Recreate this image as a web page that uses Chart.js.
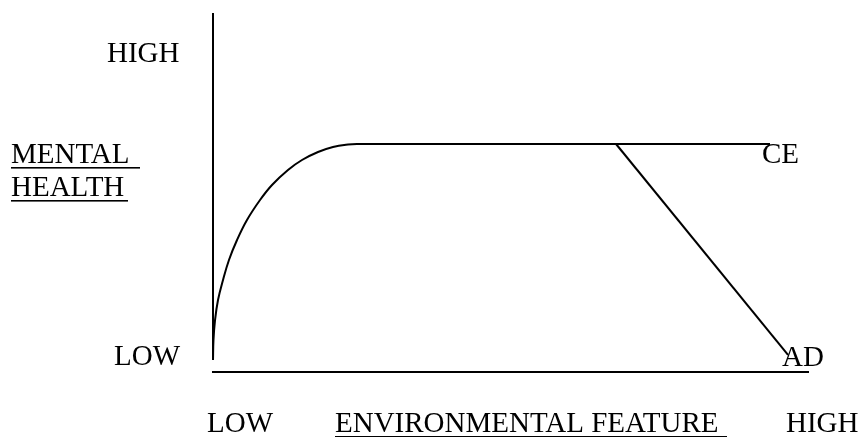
<!DOCTYPE html>
<html>
<head>
    <title>Mental health vs environmental feature</title>
    <script src="https://cdn.jsdelivr.net/npm/chart.js"></script>
    <style>
        body {
            margin: 0;
            background: #ffffff;
        }
        #chart {
            display: block;
        }
    </style>
</head>
<body>
    <canvas id="chart" width="862" height="437"></canvas>

    <script>
        // values in arbitrary units: x = environmental feature (0-100), y = mental health (0-100)
        const ceX = [0, 0.08, 0.34, 0.84, 1.68, 2.68, 4.03, 5.7, 7.89, 9.9, 12.58, 14.93, 17.62, 20.13, 22.65, 24.16, 93.46];
        const ceY = [3.34, 8.91, 14.48, 20.06, 25.63, 31.2, 36.77, 42.34, 47.91, 52.09, 56.27, 59.05, 61.28, 62.67, 63.37, 63.51, 63.51];
        const adX = [67.62, 96.48];
        const adY = [63.51, 4.74];
        const yAxisX = [0, 0];
        const yAxisY = [100, 3.34];
        const xAxisX = [-0.17, 100];
        const xAxisY = [0, 0];

        // text labels
        const labelFont = "29px 'Liberation Serif', 'Times New Roman', serif";
        const labels = [
            { text: "HIGH", x: 107, y: 62 },
            { text: "LOW", x: 114, y: 365 },
            { text: "MENTAL", x: 11, y: 163, underline: 140 },
            { text: "HEALTH", x: 11, y: 196, underline: 128 },
            { text: "CE", x: 762, y: 163 },
            { text: "AD", x: 782, y: 366 },
            { text: "LOW", x: 207, y: 432 },
            { text: "ENVIRONMENTAL FEATURE", x: 335, y: 432, underline: 727 },
            { text: "HIGH", x: 786, y: 432 }
        ];

        function toPoints(xs, ys) {
            return xs.map((x, i) => ({ x: x, y: ys[i] }));
        }

        const textPlugin = {
            id: "textLabels",
            afterDraw(chart) {
                const ctx = chart.ctx;
                ctx.save();
                ctx.font = labelFont;
                ctx.fillStyle = "#000";
                ctx.textBaseline = "alphabetic";
                ctx.textAlign = "left";
                labels.forEach(l => {
                    ctx.fillText(l.text, l.x, l.y);
                    if (l.underline) {
                        ctx.fillRect(l.x, l.y + 4, l.underline - l.x, 1.6);
                    }
                });
                ctx.restore();
            }
        };

        const lineStyle = { borderColor: "#000", borderWidth: 2, pointRadius: 0, fill: false, clip: false, tension: 0 };

        new Chart(document.getElementById("chart").getContext("2d"), {
            type: "line",
            data: {
                datasets: [
                    Object.assign({ label: "CE", data: toPoints(ceX, ceY) }, lineStyle, { tension: 0.4 }),
                    Object.assign({ label: "AD", data: toPoints(adX, adY) }, lineStyle),
                    Object.assign({ label: "y axis", data: toPoints(yAxisX, yAxisY) }, lineStyle),
                    Object.assign({ label: "x axis", data: toPoints(xAxisX, xAxisY) }, lineStyle)
                ]
            },
            options: {
                responsive: false,
                animation: false,
                devicePixelRatio: 1,
                layout: { padding: { left: 213, right: 53, top: 13, bottom: 65 } },
                plugins: { legend: { display: false }, tooltip: { enabled: false } },
                scales: {
                    x: { type: "linear", min: 0, max: 100, display: false },
                    y: { type: "linear", min: 0, max: 100, display: false }
                }
            },
            plugins: [textPlugin]
        });
    </script>
</body>
</html>
